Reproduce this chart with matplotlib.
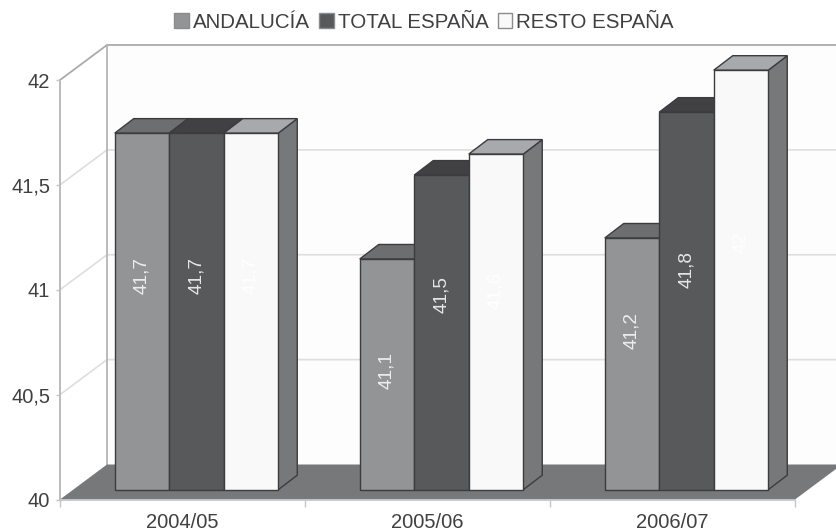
import matplotlib
matplotlib.use("Agg")
import matplotlib.pyplot as plt
from matplotlib.patches import Patch, Polygon
from matplotlib.transforms import Affine2D

# data
years = ["2004/05", "2005/06", "2006/07"]
andalucia = [41.7, 41.1, 41.2]
total_espana = [41.7, 41.5, 41.8]
resto_espana = [41.7, 41.6, 42.0]
series_names = ["ANDALUCÍA", "TOTAL ESPAÑA", "RESTO ESPAÑA"]
y_ticks = [40, 40.5, 41, 41.5, 42]

# height on the value axis where each rotated label sits, one row per year
label_heights = [
    [41.02, 41.02, 41.02],
    [40.57, 40.93, 40.95],
    [40.76, 41.05, 41.18],
]

front_colors = ["#939496", "#58595b", "#f9f9f9"]
top_colors = ["#6d6e70", "#414042", "#a7a9ac"]
side_color = "#76787a"
edge_color = "#3c3c3e"
text_color = "#404042"
label_colors = ["#eeeeee", "#e6e6e6", "#ffffff"]

plt.rcParams["font.family"] = ["Liberation Sans", "DejaVu Sans"]

fig = plt.figure(figsize=(8.36, 5.32), dpi=100, facecolor="white")
ax = fig.add_axes([60 / 836, 32.5 / 532, 735 / 836, 419.5 / 532])
ax.set_xlim(0, 3)
ax.set_ylim(40, 42)
ax.patch.set_visible(False)

# pixel sizes turned into axis units
x_px = 3 / 735
y_px = 2 / 419.5
wall_dx = 47 * x_px
wall_dy = 35 * y_px
bar_dx = 19 * x_px
bar_dy = 14.5 * y_px
bar_w = 54.5 * x_px

# back wall, floor and grid
wall = Polygon([(wall_dx, 40 + wall_dy), (3.2, 40 + wall_dy), (3.2, 42 + wall_dy), (wall_dx, 42 + wall_dy)],
               facecolor="#fdfdfd", edgecolor="none", clip_on=False, zorder=0)
ax.add_patch(wall)
for t in y_ticks[1:-1]:
    ax.plot([0, wall_dx, 3.2], [t, t + wall_dy, t + wall_dy], color="#dedede", lw=1.2, clip_on=False, zorder=1)
ax.plot([0, wall_dx, 3.2], [42, 42 + wall_dy, 42 + wall_dy], color="#a9abae", lw=1.3, clip_on=False, zorder=1)
ax.plot([wall_dx, wall_dx], [40 + wall_dy, 42 + wall_dy], color="#b4b5b7", lw=1.3, clip_on=False, zorder=1)
floor = Polygon([(0, 40), (3, 40), (3 + wall_dx, 40 + wall_dy), (wall_dx, 40 + wall_dy)],
                facecolor="#77787a", edgecolor="none", clip_on=False, zorder=2)
ax.add_patch(floor)

# bars stand a little way back from the front of the floor
bar_trans = ax.transData + Affine2D().translate(14, 9.8)

for i in range(len(years)):
    for j, values in enumerate([andalucia, total_espana, resto_espana]):
        v = values[i]
        left = i + 0.5 + (j - 1.5) * bar_w
        right = left + bar_w
        z = 3 + i * 3 + j
        side = Polygon([(right, 40), (right + bar_dx, 40 + bar_dy), (right + bar_dx, v + bar_dy), (right, v)],
                       facecolor=side_color, edgecolor=edge_color, lw=1, transform=bar_trans, clip_on=False, zorder=z)
        top = Polygon([(left, v), (right, v), (right + bar_dx, v + bar_dy), (left + bar_dx, v + bar_dy)],
                      facecolor=top_colors[j], edgecolor=edge_color, lw=1, transform=bar_trans, clip_on=False, zorder=z)
        ax.add_patch(side)
        ax.add_patch(top)
        ax.bar(left, v - 40, width=bar_w, bottom=40, align="edge", color=front_colors[j], edgecolor=edge_color,
               lw=1, transform=bar_trans, clip_on=False, zorder=z)
        label = f"{v:g}".replace(".", ",")
        ax.text(left + bar_w / 2, label_heights[i][j], label, rotation=90, ha="center", va="center",
                color=label_colors[j], fontsize=13.7, transform=bar_trans, clip_on=False, zorder=20)

# axes
for name in ["top", "right"]:
    ax.spines[name].set_visible(False)
ax.spines["left"].set_color("#b4b5b7")
ax.spines["bottom"].set_color("#c4c5c7")
ax.spines["left"].set_linewidth(1.3)
ax.spines["bottom"].set_linewidth(1.3)
ax.spines["left"].set_zorder(1)
ax.spines["bottom"].set_zorder(2)

ax.set_yticks(y_ticks)
ax.set_yticklabels([f"{t:g}".replace(".", ",") for t in y_ticks], fontsize=14.5, color=text_color)
ax.tick_params(axis="y", length=3, width=1, color="#c4c5c7", pad=4)

ax.set_xticks(range(len(years) + 1))
ax.set_xticklabels([])
ax.tick_params(axis="x", which="major", length=5, width=1, color="#c4c5c7")
ax.set_xticks([i + 0.5 for i in range(len(years))], minor=True)
ax.set_xticklabels(years, minor=True, fontsize=14.5, color=text_color)
ax.tick_params(axis="x", which="minor", length=0, pad=9.5)

handles = [Patch(facecolor=c, edgecolor="#8a8b8d", lw=1, label=n) for c, n in zip(front_colors, series_names)]
fig.legend(handles=handles, ncol=3, loc="center", bbox_to_anchor=(424 / 836, 1 - 22 / 532), frameon=False,
           fontsize=14.8, labelcolor=text_color, handlelength=0.7, handleheight=0.7,
           handletextpad=0.2, columnspacing=0.45, borderpad=0, borderaxespad=0)

fig.savefig("out.png", dpi=100)
